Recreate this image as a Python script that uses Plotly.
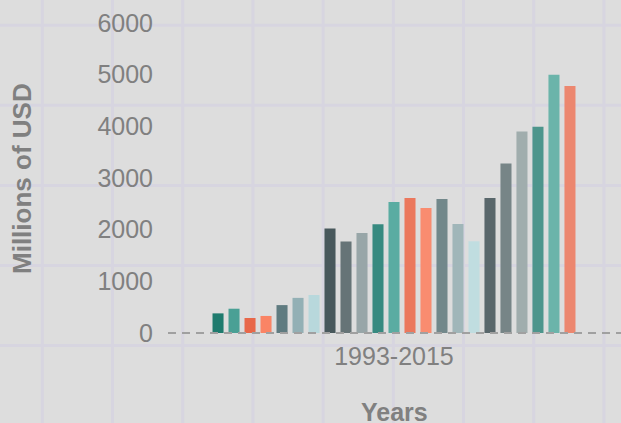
import plotly.graph_objects as go

years = [str(y) for y in range(1993, 2016)]
category = ["1993-2015"]
values = [380, 470, 290, 330, 540, 680, 735, 2025, 1770, 1935, 2105, 2535,
          2615, 2420, 2595, 2110, 1775, 2615, 3280, 3900, 3990, 5000, 4780]
colors = ["#1f7b6e", "#4aa095", "#e8684a", "#fa8465", "#5f7b80", "#93b0b5",
          "#b8d8dc", "#48585c", "#667477", "#98a6a8", "#378a80", "#5aaca2",
          "#eb785d", "#f98c70", "#72888b", "#a0b6b9", "#c0dde0", "#59676b",
          "#778587", "#a0adad", "#4d958c", "#6bb4aa", "#ec876f"]
y_ticks = [0, 1000, 2000, 3000, 4000, 5000, 6000]

W, H = 621, 423
BG = "#dddddd"
fig = go.Figure()
for yr, v, c in zip(years, values, colors):
    fig.add_trace(go.Bar(x=category, y=[v], name=yr, marker_color=c,
                         marker_line_width=0, showlegend=False))

# background decorative grid (page pattern)
shapes = []
gx = [42.3 + 70.2 * i for i in range(9)]
gy = [25.3 + 80.05 * i for i in range(5)]
for x in gx:
    shapes.append(dict(type="line", xref="paper", yref="paper", x0=x / W, x1=x / W,
                       y0=0, y1=1, layer="below",
                       line=dict(color="#d7d5e0", width=3)))
for y in gy:
    shapes.append(dict(type="line", xref="paper", yref="paper", x0=0, x1=1,
                       y0=1 - y / H, y1=1 - y / H, layer="below",
                       line=dict(color="#d7d5e0", width=3)))
# dashed zero reference line
shapes.append(dict(type="line", xref="paper", yref="y", x0=168 / W, x1=1, y0=0, y1=0,
                   layer="above", line=dict(color="#a0a0a0", width=2, dash="8px,6px")))

font_fam = "Liberation Sans, Arial, sans-serif"
bottom_px = 339
px_per_unit = 310 / 6000
fig.update_layout(
    width=W, height=H,
    margin=dict(l=0, r=0, t=0, b=0),
    paper_bgcolor=BG,
    plot_bgcolor="rgba(0,0,0,0)",
    barmode="group", bargap=0.186, bargroupgap=0.31,
    shapes=shapes,
    font=dict(family=font_fam, color="#808080"),
    xaxis=dict(domain=[168 / W, 620 / W], showgrid=False, zeroline=False,
               showline=False, ticks="", automargin=False,
               tickfont=dict(size=25, color="#808080")),
    yaxis=dict(domain=[1 - bottom_px / H, 1],
               range=[-(bottom_px - 333) / px_per_unit, 333 / px_per_unit],
               tickvals=y_ticks, ticktext=[str(t) for t in y_ticks],
               showgrid=False, zeroline=False, showline=False, ticks="",
               ticklabelstandoff=14, automargin=False,
               tickfont=dict(size=25, color="#808080")),
    annotations=[
        dict(text="<b>Years</b>", xref="paper", yref="paper", x=394 / W, y=1 - 412 / H,
             xanchor="center", yanchor="middle", showarrow=False,
             font=dict(size=25, color="#808080", family=font_fam)),
        dict(text="<b>Millions of USD</b>", xref="paper", yref="paper", x=22 / W,
             y=1 - 179 / H, xanchor="center", yanchor="middle", showarrow=False,
             textangle=-90, font=dict(size=26, color="#808080", family=font_fam)),
    ],
)
fig.write_html("out.html", config={"displayModeBar": False}, post_script=(
    "document.body.style.margin='0';document.body.style.padding='0';"
    "document.body.style.background='%s';document.body.style.overflow='hidden';" % BG))
